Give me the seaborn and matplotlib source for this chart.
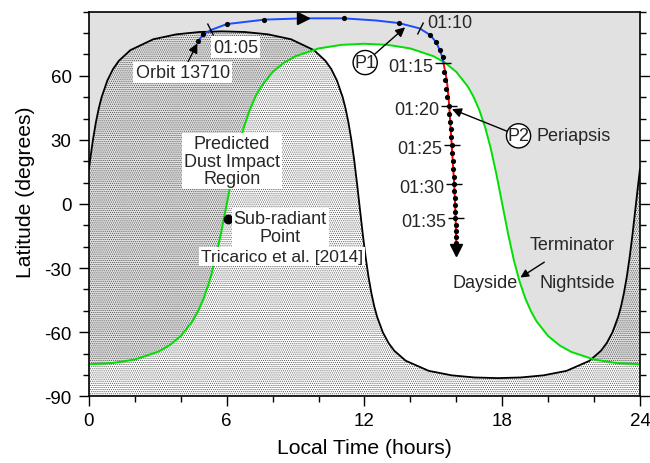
import numpy as np
import pandas as pd
import matplotlib
matplotlib.use("Agg")
import matplotlib.pyplot as plt
import seaborn as sns
from matplotlib.markers import MarkerStyle
from matplotlib.transforms import Affine2D

# ---------------- data ----------------
term_lt = [0, 1, 2, 3, 3.5, 4, 4.5, 4.75, 5, 5.25, 5.5, 5.75, 6, 6.25, 6.5, 6.75, 7, 7.25,
           7.5, 8, 8.5, 9, 10, 11, 12, 13, 14, 15, 15.5, 16, 16.5, 16.75, 17, 17.25, 17.5,
           17.75, 18, 18.25, 18.5, 18.75, 19, 19.25, 19.5, 20, 20.5, 21, 22, 23, 24]
term_lat = [-75, -74.5, -72.8, -69.2, -66.2, -61.8, -55, -50.2, -44, -36.1, -26, -13.7, 0,
            13.7, 26, 36.1, 44, 50.2, 55, 61.8, 66.2, 69.2, 72.8, 74.5, 75, 74.5, 72.8, 69.2,
            66.2, 61.8, 55, 50.2, 44, 36.1, 26, 13.7, 0, -13.7, -26, -36.1, -44, -50.2, -55,
            -61.8, -66.2, -69.2, -72.8, -74.5, -75]

dust_lt = [0, 0.05, 0.175, 0.3, 0.425, 0.55, 0.8, 1.05, 1.3, 1.8, 2.8, 3.8, 4.8, 5.8, 6.8,
           7.8, 8.8, 9.8, 10.3, 10.55, 10.8, 11.05, 11.175, 11.3, 11.425, 11.55, 11.675, 11.8,
           11.925, 12.05, 12.175, 12.3, 12.425, 12.55, 12.8, 13.05, 13.3, 13.8, 14.8, 15.8,
           16.8, 17.8, 18.8, 19.8, 20.8, 21.8, 22.3, 22.55, 22.8, 23.05, 23.175, 23.3, 23.425,
           23.55, 23.675, 23.8, 23.925, 24]
dust_lat = [16.4, 20.7, 30.2, 38.2, 44.7, 50.0, 57.8, 63.2, 67.0, 72.0, 77.1, 79.4, 80.5, 80.8,
            80.5, 79.4, 77.1, 72.0, 67.0, 63.2, 57.8, 50.0, 44.7, 38.2, 30.2, 20.7, 9.6, -2.3,
            -14.1, -24.9, -34.1, -41.7, -47.9, -52.8, -60.1, -65.1, -68.7, -73.4, -78.1, -80.2,
            -81.2, -81.5, -81.2, -80.2, -78.1, -73.4, -68.7, -65.1, -60.1, -52.8, -47.9, -41.7,
            -34.1, -24.9, -14.1, -2.3, 9.6, 16.4]

# orbit 13710 track (blue: before 01:15, red: after)
blue_lt = [4.77, 4.98, 5.35, 6.0, 7.64, 9.34, 11.09, 12.5, 13.49, 14.4, 14.86, 15.13, 15.27, 15.40, 15.45]
blue_lat = [76.4, 79.5, 81.6, 84.2, 86.3, 86.9, 86.9, 85.9, 84.7, 82.2, 79.1, 75.6, 72.2, 68.6, 65.5]
red_lt = [15.45, 15.59, 15.69, 15.80, 15.91, 15.97, 16.0]
red_lat = [65.5, 57.7, 46.0, 27.5, 9.2, -6.7, -19.0]

dot_lt = [4.77, 4.98, 6.0, 7.64, 11.09, 13.49, 14.86, 15.13, 15.27, 15.40,
          15.45, 15.50, 15.55, 15.60, 15.66, 15.69, 15.72, 15.75, 15.77, 15.80, 15.83, 15.85,
          15.87, 15.89, 15.91, 15.92, 15.93, 15.94, 15.95, 15.96, 15.97, 15.98, 15.99, 16.0]
dot_lat = [76.4, 79.5, 84.2, 86.3, 86.9, 84.7, 79.1, 75.6, 72.2, 68.6,
           62.0, 58.0, 54.0, 50.0, 46.0, 42.3, 38.6, 34.9, 31.2, 27.5, 23.8, 20.1,
           16.4, 12.7, 9.2, 6.0, 2.8, -0.4, -3.6, -6.7, -9.7, -12.7, -15.5, -18.2]

time_labels = ["01:05", "01:10", "01:15", "01:20", "01:25", "01:30", "01:35"]
time_lt = [5.27, 14.41, 15.43, 15.69, 15.81, 15.91, 15.97]
time_lat = [81.9, 82.5, 65.8, 46.0, 27.5, 9.2, -6.7]

dir_arrow_lt = [9.34]
dir_arrow_lat = [86.9]
end_arrow_lt = [16.0]
end_arrow_lat = [-21.5]

subradiant_lt = [6.07]
subradiant_lat = [-7.2]

x_ticks = [0, 6, 12, 18, 24]
y_ticks = [-90, -60, -30, 0, 30, 60]

# ---------------- styling ----------------
sns.set_theme(style="ticks")
plt.rcParams["font.family"] = ["Liberation Sans", "DejaVu Sans"]
plt.rcParams["hatch.linewidth"] = 0.5

GRAY = "#e1e1e1"
GREEN = "#00e000"
BLUE = "#1a4dff"

fig = plt.figure(figsize=(6.5, 4.64), dpi=100)
ax = fig.add_axes([0.1369, 0.1438, 0.8477, 0.8288])
ax.set_facecolor(GRAY)

# dayside (inside terminator) is white
ax.fill_between(term_lt, -90, term_lat, color="white", lw=0, zorder=1)
# predicted dust impact region (stippled)
ax.fill_between(dust_lt, -90, dust_lat, facecolor="none", edgecolor="#505050",
                hatch="........", lw=0, zorder=2)

df_term = pd.DataFrame({"lt": term_lt, "lat": term_lat})
df_dust = pd.DataFrame({"lt": dust_lt, "lat": dust_lat})
df_blue = pd.DataFrame({"lt": blue_lt, "lat": blue_lat})
df_red = pd.DataFrame({"lt": red_lt, "lat": red_lat})
df_dots = pd.DataFrame({"lt": dot_lt, "lat": dot_lat})

sns.lineplot(data=df_dust, x="lt", y="lat", color="black", lw=1.3, sort=False,
             estimator=None, ax=ax, zorder=4)
sns.lineplot(data=df_term, x="lt", y="lat", color=GREEN, lw=1.4, sort=False,
             estimator=None, ax=ax, zorder=4)
sns.lineplot(data=df_blue, x="lt", y="lat", color=BLUE, lw=1.4, sort=False,
             estimator=None, ax=ax, zorder=5)
sns.lineplot(data=df_red, x="lt", y="lat", color="red", lw=1.4, sort=False,
             estimator=None, ax=ax, zorder=5)
sns.scatterplot(data=df_dots, x="lt", y="lat", color="black", s=14, linewidth=0,
                ax=ax, zorder=6)

ax.plot(dir_arrow_lt, dir_arrow_lat, marker=">", ms=9, color="black", ls="none", zorder=6)
ax.plot(end_arrow_lt, end_arrow_lat, marker="v", ms=9, color="black", ls="none", zorder=6)

# time tick marks across the track
tick_markers = [MarkerStyle("|", transform=Affine2D().rotate_deg(25)),
                MarkerStyle("|", transform=Affine2D().rotate_deg(-26))] + ["_"] * 5
tick_sizes = [9, 9, 11, 11, 11, 11, 11]
for lt, lat, mk, ms in zip(time_lt, time_lat, tick_markers, tick_sizes):
    ax.plot([lt], [lat], marker=mk, ms=ms, mew=1.0, color="black", ls="none", zorder=6)

FS = 13
box = dict(boxstyle="square,pad=0.12", fc="white", ec="none")
ax.annotate(time_labels[0], (time_lt[0], time_lat[0]), xytext=(2, -13),
            textcoords="offset points", ha="left", va="center", fontsize=FS, bbox=box, zorder=7)
ax.annotate(time_labels[1], (time_lt[1], time_lat[1]), xytext=(5, 4),
            textcoords="offset points", ha="left", va="center", fontsize=FS, zorder=7)
for lab, lt, lat in zip(time_labels[2:], time_lt[2:], time_lat[2:]):
    ax.annotate(lab, (lt, lat), xytext=(-7, -2.5), textcoords="offset points",
                ha="right", va="center", fontsize=FS, zorder=7)

arrow = dict(arrowstyle="-|>", color="black", lw=1.0, mutation_scale=14,
             shrinkA=0, shrinkB=0)
ax.annotate("Orbit 13710", xy=(4.72, 75.2), xytext=(4.08, 61.6), ha="center", va="center",
            fontsize=FS, bbox=box, arrowprops=arrow, zorder=7)
circ = dict(boxstyle="circle,pad=0.06", fc="white", ec="black", lw=1.0)
ax.annotate("P1", xy=(13.77, 82.7), xytext=(12.03, 66.2), ha="center", va="center",
            fontsize=FS, bbox=circ, arrowprops=arrow, zorder=7)
ax.annotate("P2", xy=(15.81, 44.4), xytext=(18.71, 31.9), ha="center", va="center",
            fontsize=FS, bbox=circ, arrowprops=arrow, zorder=7)
ax.text(19.51, 31.9, "Periapsis", ha="left", va="center", fontsize=FS, zorder=7)

ax.text(6.22, 20.1, "Predicted\nDust Impact\nRegion", ha="center", va="center",
        fontsize=FS, linespacing=1.05, bbox=box, zorder=7)
ax.plot(subradiant_lt, subradiant_lat, marker="o", ms=6, color="black", ls="none", zorder=7)
ax.text(8.33, -11.0, "Sub-radiant\nPoint", ha="center", va="center", fontsize=FS,
        linespacing=1.05, bbox=box, zorder=7)
ax.text(8.40, -24.4, "Tricarico et al. [2014]", ha="center", va="center", fontsize=12.5,
        bbox=box, zorder=7)

ax.annotate("Terminator", xy=(18.79, -34.4), xytext=(21.04, -18.9), ha="center",
            va="center", fontsize=FS, arrowprops=dict(arrowstyle="-|>", color="black",
            lw=1.0, mutation_scale=12, shrinkA=8, shrinkB=0), zorder=7)
ax.text(17.26, -36.9, "Dayside", ha="center", va="center", fontsize=FS, zorder=7)
ax.text(21.27, -36.9, "Nightside", ha="center", va="center", fontsize=FS, zorder=7)

# axes
ax.set_xlim(0, 24)
ax.set_ylim(-90, 90)
ax.set_xticks(x_ticks)
ax.set_yticks(y_ticks)
ax.set_xticks(np.arange(0, 25, 2), minor=True)
ax.set_yticks(np.arange(-90, 91, 10), minor=True)
ax.set_xticklabels([str(v) for v in x_ticks])
ax.set_yticklabels([str(v) for v in y_ticks])
ax.tick_params(which="major", direction="out", length=7.5, width=1.0, labelsize=13.5,
               left=True, right=True, bottom=True, top=False, labelright=False,
               color="black", labelcolor="black")
ax.tick_params(which="minor", direction="out", length=4.5, width=1.0,
               left=True, right=True, bottom=True, top=False, color="black")
ax.tick_params(axis="x", which="major", pad=4)
ax.tick_params(axis="y", which="major", pad=5)
for sp in ax.spines.values():
    sp.set_visible(True)
    sp.set_linewidth(1.2)
    sp.set_color("black")
    sp.set_zorder(10)

ax.set_xlabel("Local Time (hours)", fontsize=15.2, color="black")
ax.set_ylabel("Latitude (degrees)", fontsize=15.2, color="black")
ax.xaxis.set_label_coords(0.5, -0.108)
ax.yaxis.set_label_coords(-0.098, 0.5325)
ax.grid(False)

fig.savefig("out.png", dpi=100)
